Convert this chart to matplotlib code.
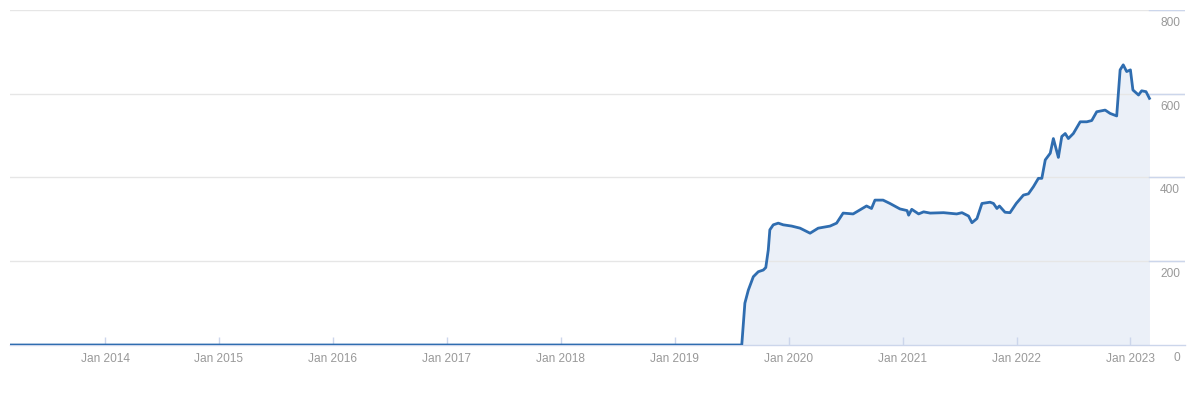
import matplotlib
matplotlib.use('Agg')
import matplotlib.pyplot as plt
import matplotlib.dates as mdates
import matplotlib.transforms as mtransforms
import pandas as pd

# series (weekly-ish samples)
dates = ['2013-03-02', '2019-08-04', '2019-08-14', '2019-08-25', '2019-09-10',
         '2019-09-26', '2019-10-12', '2019-10-20', '2019-10-28', '2019-11-02',
         '2019-11-13', '2019-11-29', '2019-12-15', '2020-01-11', '2020-02-07',
         '2020-03-10', '2020-04-05', '2020-05-13', '2020-06-03', '2020-06-24',
         '2020-07-26', '2020-09-07', '2020-09-23', '2020-10-04', '2020-10-30',
         '2020-11-21', '2020-12-23', '2021-01-15', '2021-01-20', '2021-01-30',
         '2021-02-21', '2021-03-09', '2021-03-30', '2021-05-12', '2021-06-23',
         '2021-07-10', '2021-07-31', '2021-08-11', '2021-08-27', '2021-09-12',
         '2021-10-08', '2021-10-19', '2021-10-30', '2021-11-07', '2021-11-25',
         '2021-12-11', '2021-12-31', '2022-01-23', '2022-02-08', '2022-02-24',
         '2022-03-12', '2022-03-23', '2022-04-03', '2022-04-19', '2022-04-29',
         '2022-05-10', '2022-05-15', '2022-05-26', '2022-06-06', '2022-06-16',
         '2022-07-02', '2022-07-24', '2022-08-14', '2022-08-30', '2022-09-15',
         '2022-10-12', '2022-10-28', '2022-11-18', '2022-11-29', '2022-12-09',
         '2022-12-20', '2023-01-01', '2023-01-09', '2023-01-27', '2023-02-06',
         '2023-02-20', '2023-03-03']
values = [0, 0, 100, 131, 163,
          175, 179, 185, 227, 275,
          287, 291, 287, 284, 279,
          267, 279, 284, 291, 315,
          313, 332, 326, 346, 346,
          338, 325, 321, 310, 324,
          313, 318, 315, 316, 313,
          316, 308, 292, 302, 338,
          341, 338, 326, 332, 317,
          316, 338, 358, 361, 378,
          398, 398, 442, 458, 493,
          462, 448, 498, 505, 493,
          505, 533, 533, 536, 557,
          561, 553, 547, 657, 669,
          653, 657, 609, 597, 607,
          605, 589]

tick_years = list(range(2014, 2024))
y_ticks = [0, 200, 400, 600, 800]

line_color = '#2f6db0'
fill_color = '#ebf0f8'
grid_color = '#e6e6e6'
axis_color = '#ccd6eb'
label_color = '#999999'

plt.rcParams['font.family'] = ['Liberation Sans', 'DejaVu Sans']

d = pd.to_datetime(dates)

fig = plt.figure(figsize=(12, 4), dpi=100)
ax = fig.add_axes([10 / 1200, 55 / 400, 1175 / 1200, 335 / 400])

ax.fill_between(d, values, 0, color=fill_color, lw=0, zorder=1)
ax.plot(d, values, color=line_color, lw=2, zorder=3, solid_joinstyle='round')

x0 = pd.Timestamp('2013-03-02')
x1 = pd.Timestamp('2023-06-25')
ax.set_xlim(x0, x1)
ax.set_ylim(0, 800)

# gridlines: gray across, blue-ish past the end of the data
end_frac = (mdates.date2num(d[-1]) - mdates.date2num(x0)) / (mdates.date2num(x1) - mdates.date2num(x0))
for v in y_ticks[1:]:
    ax.axhline(v, color=grid_color, lw=1, zorder=2)
    ax.axhline(v, xmin=end_frac, xmax=1, color=axis_color, lw=1, zorder=2)

for s in ['top', 'left', 'right']:
    ax.spines[s].set_visible(False)
ax.spines['bottom'].set_color(axis_color)
ax.spines['bottom'].set_linewidth(1)

ax.set_xticks([pd.Timestamp('%d-01-01' % y) for y in tick_years])
ax.set_xticklabels(['Jan %d' % y for y in tick_years])
ax.tick_params(axis='x', direction='in', length=6, width=1, color=axis_color,
               labelcolor=label_color, labelsize=8.6, pad=6)
ax.set_yticks([])

# y labels sit just under their gridline, right-aligned at the edge
off = mtransforms.offset_copy(ax.get_yaxis_transform(), fig=fig, x=-5, y=-7, units='dots')
for v in y_ticks:
    ax.text(1.0, v, str(v), transform=off, ha='right', va='top',
            color=label_color, fontsize=8.6)

fig.savefig('out.png', dpi=100)
